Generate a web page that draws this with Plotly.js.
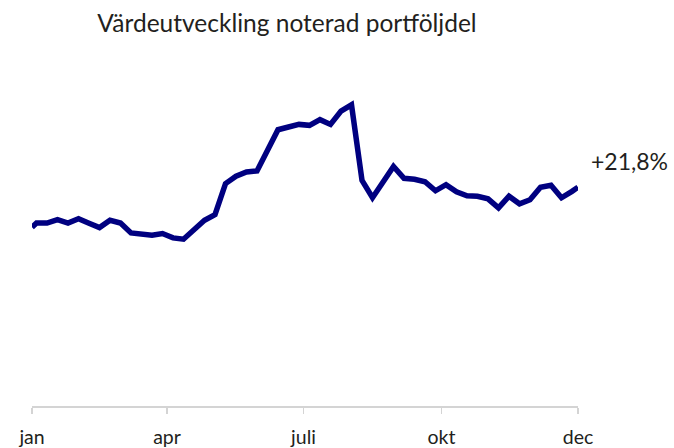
<!DOCTYPE html>
<html>
<head>
<meta charset="utf-8">
<script src="https://cdn.plot.ly/plotly-3.0.1.min.js"></script>
<style>
html,body{margin:0;padding:0;background:#fff;}
#chart{width:674px;height:448px;}
</style>
</head>
<body>
<div id="chart"></div>
<script>
// Dates (start of year, weekly Fridays, end of year)
const dates = [
  "2013-01-01",
  "2013-01-04","2013-01-11","2013-01-18","2013-01-25",
  "2013-02-01","2013-02-08","2013-02-15","2013-02-22",
  "2013-03-01","2013-03-08","2013-03-15","2013-03-22","2013-03-29",
  "2013-04-05","2013-04-12","2013-04-19","2013-04-26",
  "2013-05-03","2013-05-10","2013-05-17","2013-05-24","2013-05-31",
  "2013-06-07","2013-06-14","2013-06-21","2013-06-28",
  "2013-07-05","2013-07-12","2013-07-19","2013-07-26",
  "2013-08-02","2013-08-09","2013-08-16","2013-08-23","2013-08-30",
  "2013-09-06","2013-09-13","2013-09-20","2013-09-27",
  "2013-10-04","2013-10-11","2013-10-18","2013-10-25",
  "2013-11-01","2013-11-08","2013-11-15","2013-11-22","2013-11-29",
  "2013-12-06","2013-12-13","2013-12-20","2013-12-27",
  "2013-12-31"
];
// Value change since start of year, %
const changePct = [
  0.0,
  2.3, 2.3, 4.2, 2.3,
  4.7, 2.2, -0.2, 3.8,
  2.3, -3.1, -3.8, -4.4, -3.4,
  -5.8, -6.5, -1.4, 3.8,
  6.9, 23.8, 27.8, 30.1, 30.7,
  42.0, 53.2, 54.7, 56.1,
  55.6, 58.7, 56.1, 63.4,
  66.8, 25.6, 16.1, 24.5, 33.2,
  26.7, 26.2, 24.8, 19.9,
  23.2, 19.3, 17.2, 16.9,
  15.5, 10.6, 16.9, 12.8, 15.0,
  21.8, 22.9, 16.1, 19.6,
  21.8
];
const tickDates = ["2013-01-01","2013-04-01","2013-07-01","2013-10-01","2013-12-31"];
const tickLabels = ["jan","apr","juli","okt","dec"];
const titleText = "Värdeutveckling noterad portföljdel";
const endLabel = "+21,8%";

const FONT = "Lato, 'Open Sans', sans-serif";
const TXT = "#231f20";

const trace = {
  x: dates,
  y: changePct,
  type: "scatter",
  mode: "lines",
  line: {color: "#000080", width: 5.5, shape: "linear"},
  hoverinfo: "skip",
  cliponaxis: false
};

const layout = {
  width: 674,
  height: 448,
  margin: {l: 32, r: 96, t: 43, b: 42, pad: 0},
  paper_bgcolor: "#ffffff",
  plot_bgcolor: "#ffffff",
  showlegend: false,
  font: {family: FONT, color: TXT, size: 19},
  title: {
    text: titleText,
    font: {family: FONT, size: 24.5, color: TXT},
    x: 287/674, xanchor: "center", xref: "container",
    y: 1 - 23/448, yanchor: "middle", yref: "container"
  },
  xaxis: {
    type: "date",
    range: ["2013-01-01", "2013-12-31"],
    tickmode: "array",
    tickvals: tickDates,
    ticktext: tickLabels,
    showgrid: false,
    zeroline: false,
    showline: true,
    linecolor: "#d4d4d4",
    linewidth: 1.5,
    ticks: "outside",
    ticklen: 6,
    tickwidth: 1.5,
    tickcolor: "#d4d4d4",
    ticklabelstandoff: 7,
    tickfont: {family: FONT, size: 19.5, color: TXT},
    fixedrange: true
  },
  yaxis: {
    range: [-97.5, 100.5],
    visible: false,
    showgrid: false,
    zeroline: false,
    fixedrange: true
  },
  annotations: [{
    x: dates[dates.length - 1],
    y: changePct[changePct.length - 1],
    xref: "x", yref: "y",
    text: endLabel,
    showarrow: false,
    xanchor: "left", yanchor: "middle",
    xshift: 11, yshift: 26,
    font: {family: FONT, size: 23, color: TXT}
  }]
};

Plotly.newPlot("chart", [trace], layout, {displayModeBar: false, staticPlot: true});
</script>
</body>
</html>
